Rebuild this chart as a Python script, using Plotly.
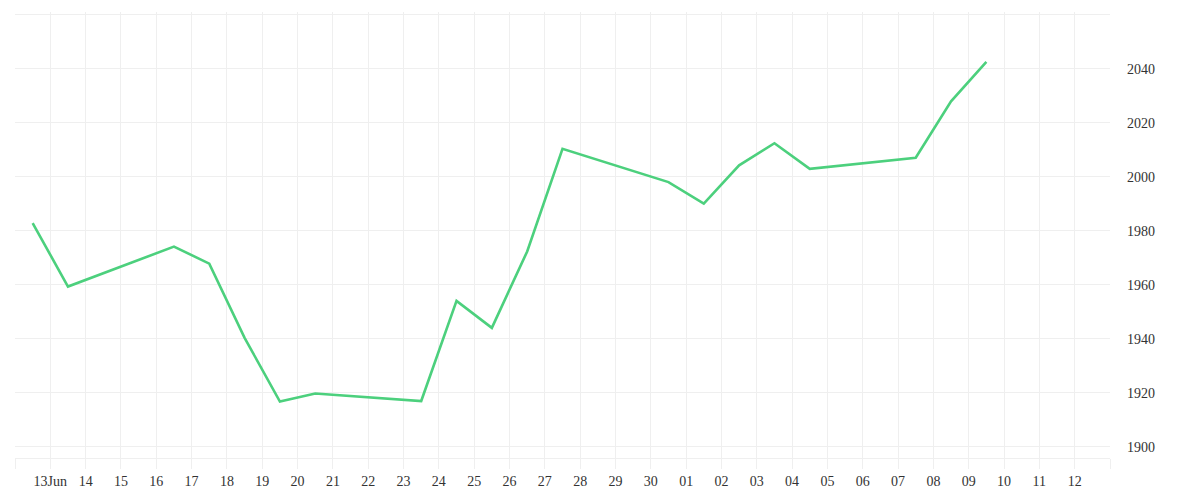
import pandas as pd
import plotly.graph_objects as go

# daily closes, stamped at midday
dates = [
    "2025-06-12", "2025-06-13", "2025-06-16", "2025-06-17", "2025-06-18",
    "2025-06-19", "2025-06-20", "2025-06-23", "2025-06-24", "2025-06-25",
    "2025-06-26", "2025-06-27", "2025-06-30", "2025-07-01", "2025-07-02",
    "2025-07-03", "2025-07-04", "2025-07-07", "2025-07-08", "2025-07-09",
]
prices = [
    1982.9, 1959.4, 1974.2, 1967.9, 1940.4,
    1916.8, 1919.8, 1917.0, 1954.1, 1944.1,
    1972.4, 2010.4, 1998.1, 1990.1, 2004.3,
    2012.5, 2003.0, 2007.1, 2028.0, 2042.6,
]

y_ticks = [1900, 1920, 1940, 1960, 1980, 2000, 2020, 2040, 2060]
y_labels = ["1900", "1920", "1940", "1960", "1980", "2000", "2020", "2040", ""]

day_ticks = pd.date_range("2025-06-12", "2025-07-13", freq="D")
day_labels = []
for d in day_ticks:
    if d == day_ticks[0] or d == day_ticks[-1]:
        day_labels.append("")
    elif d.day == 13 and d.month == 6:
        day_labels.append("13Jun")
    else:
        day_labels.append(d.strftime("%d"))

x = pd.to_datetime(dates) + pd.Timedelta(hours=12)

grid = "#efefef"

fig = go.Figure()
fig.add_trace(go.Scatter(
    x=x, y=prices, mode="lines",
    line=dict(color="#4cd07d", width=2.6),
    hoverinfo="x+y",
))

# page body adds an 8px offset, so margins are shifted to compensate
fig.update_layout(
    width=1200, height=500,
    margin=dict(l=7, r=98, t=4, b=50),
    paper_bgcolor="white", plot_bgcolor="white",
    showlegend=False,
    font=dict(family="Liberation Serif, DejaVu Serif, serif", size=14, color="#333333"),
    xaxis=dict(
        range=[day_ticks[0], day_ticks[-1]],
        tickmode="array", tickvals=day_ticks, ticktext=day_labels,
        showgrid=True, gridcolor=grid, gridwidth=1,
        ticks="outside", ticklen=10, tickcolor=grid, tickwidth=1,
        showline=True, linecolor=grid, linewidth=1,
        zeroline=False,
    ),
    yaxis=dict(
        side="right",
        range=[1895.9, 2061.1],
        tickmode="array", tickvals=y_ticks, ticktext=y_labels,
        showgrid=True, gridcolor=grid, gridwidth=1,
        ticks="", ticklabelstandoff=16,
        zeroline=False, showline=False,
    ),
)

fig.write_html("out.html")
